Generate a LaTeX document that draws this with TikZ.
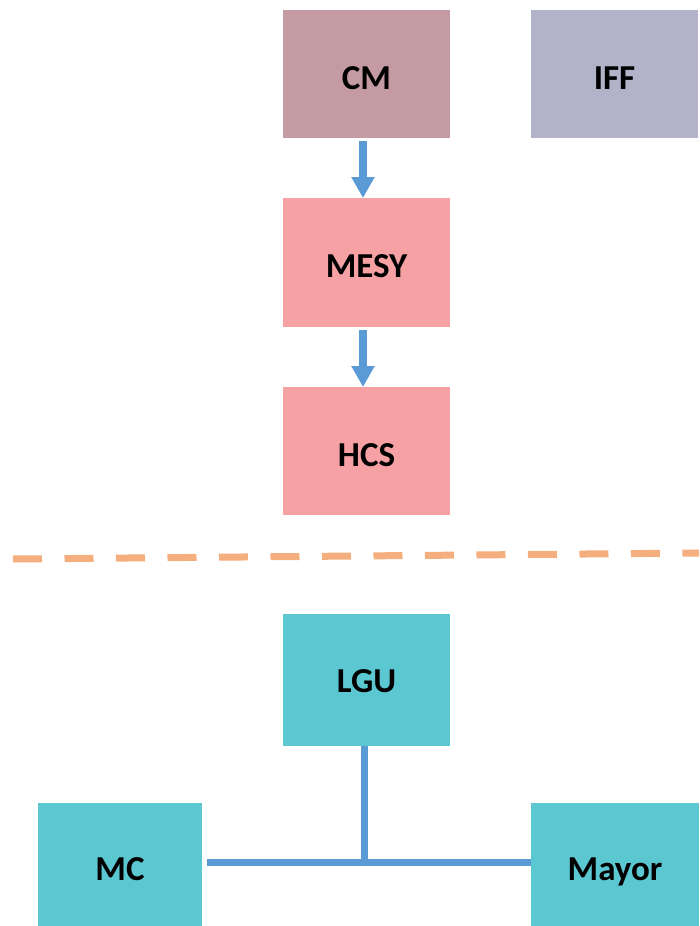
\documentclass[tikz,border=0pt]{standalone}
\usepackage{fontspec}
\setmainfont{Carlito}
\usetikzlibrary{arrows.meta}

\definecolor{cmfill}{HTML}{C49AA3}
\definecolor{ifffill}{HTML}{B2B2C9}
\definecolor{pinkfill}{HTML}{F6A2A4}
\definecolor{tealfill}{HTML}{5BC7D1}
\definecolor{linkblue}{HTML}{5B9BD5}
\definecolor{seporange}{HTML}{F5AE7E}

\tikzset{
  unit/.style={rectangle, inner sep=0pt, outer sep=0pt,
    minimum width=167pt, minimum height=128pt,
    font=\fontsize{35}{40}\selectfont\bfseries,
    text height=30pt, text depth=0pt},
  flowarrow/.style={draw=linkblue, line width=8pt,
    -{Triangle[length=21pt,width=22pt]}, shorten <=3pt},
  tieline/.style={draw=linkblue, line width=7pt},
  separator/.style={draw=seporange, line width=7pt,
    dash pattern=on 29pt off 22.5pt}
}

\begin{document}
\begin{tikzpicture}[x=1pt, y=-1pt]
  \useasboundingbox (0,0) rectangle (699,926);

  % upper group
  \node[unit, fill=cmfill] (CM) at (366.5,74) {CM};
  \node[unit, fill=ifffill] (IFF) at (614.5,74) {IFF};
  \node[unit, fill=pinkfill, minimum height=129pt] (MESY) at (366.5,262.5) {MESY};
  \node[unit, fill=pinkfill] (HCS) at (366.5,451) {HCS};

  \draw[flowarrow] ([xshift=-3.5pt]CM.south) -- ([xshift=-3.5pt]MESY.north);
  \draw[flowarrow] ([xshift=-3.5pt]MESY.south) -- ([xshift=-3.5pt]HCS.north);

  % dashed separator
  \coordinate (sepL) at (13,559);
  \coordinate (sepR) at (699,553);
  \draw[separator] (sepL) -- (sepR);

  % lower group
  \node[unit, fill=tealfill, minimum height=132pt, text height=25pt] (LGU) at (366.5,680) {LGU};
  \node[unit, fill=tealfill, minimum width=164pt, minimum height=123pt, text height=32pt] (MC) at (120,864.5) {MC};
  \node[unit, fill=tealfill, minimum width=168pt, minimum height=123pt, text height=32pt] (Mayor) at (615,864.5) {Mayor};

  \coordinate (j) at (364,862.5);
  \draw[tieline] (LGU.south -| j) -- (j);
  \draw[tieline] ([xshift=5pt]MC.east |- j) -- (Mayor.west |- j);
\end{tikzpicture}
\end{document}
